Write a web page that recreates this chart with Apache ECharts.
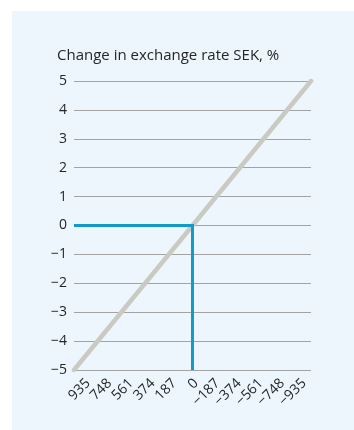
<!DOCTYPE html>
<html>
<head>
<meta charset="utf-8">
<script src="https://cdn.jsdelivr.net/npm/echarts@6/dist/echarts.min.js"></script>
<style>
  html, body { margin: 0; padding: 0; background: #ffffff; }
  #panel { position: absolute; left: 12px; top: 11px; width: 342px; height: 419px; background: #edf6fc; }
  #chart { position: absolute; left: 0; top: 0; width: 354px; height: 430px; }
</style>
</head>
<body>
<div id="panel"></div>
<div id="chart"></div>
<script>
// Change in krona exchange rate (%) against the flow shown on the horizontal axis
const xLabels = ['935', '748', '561', '374', '187', '0', '\u2212187', '\u2212374', '\u2212561', '\u2212748', '\u2212935'];
const xMin = -935, xMax = 935, xStep = 187;
const yMin = -5, yMax = 5, yStep = 1;

// Proportional relationship: +935 -> -5 %, -935 -> +5 %
const rateLineX = [935, -935];
const rateLineY = [-5, 5];

// Highlighted reading: 0 on the horizontal axis gives 0 % change
const markX = [935, 0, 0];
const markY = [0, 0, -5];

const zip = (xs, ys) => xs.map((x, i) => [x, ys[i]]);
const minus = v => String(v).replace('-', '\u2212');

const font = '"Open Sans", "Noto Sans", sans-serif';
const textColor = '#262626';

const chart = echarts.init(document.getElementById('chart'), null, { renderer: 'canvas' });
chart.setOption({
  backgroundColor: 'transparent',
  animation: false,
  grid: [
    { left: 74, right: 43, top: 81, bottom: 60 },
    { left: 88, right: 50, top: 81, bottom: 60 }
  ],
  graphic: [{
    type: 'text',
    left: 57,
    top: 48,
    style: { text: 'Change in exchange rate SEK, %', font: '15px ' + font, fill: textColor }
  }],
  xAxis: [{
    type: 'value',
    gridIndex: 0,
    min: xMin, max: xMax, interval: xStep,
    inverse: true,
    axisLine: { show: false },
    axisTick: { show: false },
    axisLabel: { show: false },
    splitLine: { show: false }
  }, {
    type: 'category',
    gridIndex: 1,
    data: xLabels,
    boundaryGap: false,
    axisLine: { show: false },
    axisTick: { show: false },
    splitLine: { show: false },
    axisLabel: {
      interval: 0,
      rotate: 45,
      margin: 11,
      color: textColor,
      fontFamily: font,
      fontSize: 14
    }
  }],
  yAxis: [{
    type: 'value',
    gridIndex: 0,
    min: yMin, max: yMax, interval: yStep,
    axisLine: { show: false },
    axisTick: { show: false },
    axisLabel: {
      margin: 7,
      color: textColor,
      fontFamily: font,
      fontSize: 14,
      formatter: minus
    },
    splitLine: { show: true, lineStyle: { color: '#a3a3a3', width: 1 } }
  }, {
    type: 'value',
    gridIndex: 1,
    min: yMin, max: yMax,
    show: false
  }],
  series: [{
    type: 'line',
    xAxisIndex: 0, yAxisIndex: 0,
    data: zip(rateLineX, rateLineY),
    symbol: 'none',
    lineStyle: { color: '#c9cac2', width: 4.5, cap: 'round' },
    z: 2
  }, {
    type: 'line',
    xAxisIndex: 0, yAxisIndex: 0,
    data: zip(markX, markY),
    symbol: 'none',
    lineStyle: { color: '#129bc8', width: 3, cap: 'butt', join: 'miter' },
    z: 3
  }]
});
</script>
</body>
</html>
